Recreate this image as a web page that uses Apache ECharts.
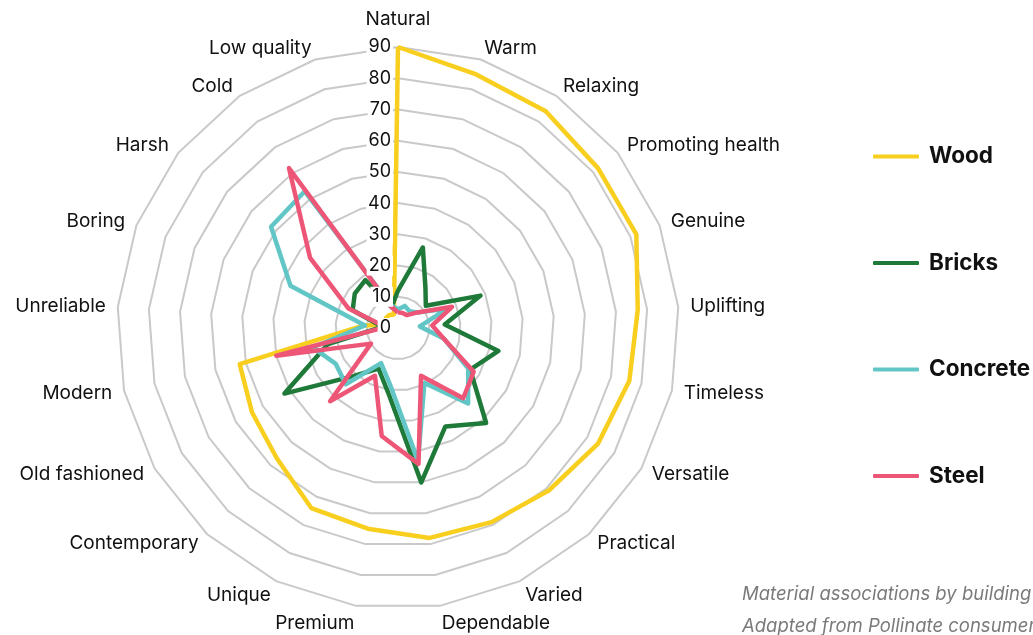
<!DOCTYPE html>
<html>
<head>
<meta charset="utf-8">
<script src="https://cdn.jsdelivr.net/npm/echarts@6/dist/echarts.min.js"></script>
<style>
  html, body { margin: 0; padding: 0; background: #fff; }
  #main { width: 1033px; height: 635px; }
</style>
</head>
<body>
<div id="main"></div>
<script>
// indicator names, clockwise from the top
const indicators = ['Natural', 'Warm', 'Relaxing', 'Promoting health', 'Genuine', 'Uplifting',
  'Timeless', 'Versatile', 'Practical', 'Varied', 'Dependable', 'Premium', 'Unique',
  'Contemporary', 'Old fashioned', 'Modern', 'Unreliable', 'Boring', 'Harsh', 'Cold', 'Low quality']

const wood     = [90, 85, 84, 82, 82, 77, 76, 74, 71, 69, 68, 65, 64, 57, 54, 52, 11, 3, 5, 5, 4.5]
const bricks   = [12, 27, 15.6, 11.4, 28.4, 15, 33, 26.7, 41.5, 35, 50, 21, 14.4, 21, 42, 23, 5, 15.6, 17.7, 18.6, 7]
const concrete = [6, 7.4, 6.5, 8, 17, 7, 15, 26, 33, 19.5, 43, 18, 12.5, 24.6, 23, 28, 10.6, 37, 52, 53, 7.6]
const steel    = [5, 5, 5, 8, 18.6, 11, 15, 28, 30.7, 17, 44, 35, 17, 32, 10, 40, 4, 17, 36, 62, 7]

const seriesNames = ['Wood', 'Bricks', 'Concrete', 'Steel']
const colors = ['#f8cf1f', '#1f7a3a', '#62c6c6', '#ee5677']

const caption1 = 'Material associations by building material'
const caption2 = 'Adapted from Pollinate consumer research'

const chart = echarts.init(document.getElementById('main'))

// radar runs counter-clockwise, so keep the first and flip the rest
const clockwise = arr => [arr[0]].concat(arr.slice(1).reverse())

const gridIndicators = clockwise(indicators).map(name => ({ name: name, min: 0, max: 90 }))

// second radar only for the value labels, drawn above the lines
const labelIndicators = clockwise(indicators).map((name, i) => {
  const ind = { name: name, min: 0, max: 90 }
  if (i === 0) {
    ind.axisLabel = {
      show: true,
      color: '#111',
      fontSize: 18,
      fontFamily: 'Inter',
      backgroundColor: '#fff',
      padding: [1, 2],
      margin: 5
    }
  }
  return ind
})

const nameStyle = { fontSize: 19, fontFamily: 'Inter', color: '#111' }

const dataArr = [wood, bricks, concrete, steel]

const option = {
  backgroundColor: '#fff',
  color: colors,
  title: {
    text: caption1 + '\n' + caption2,
    left: 737,
    top: 573,
    textStyle: {
      fontFamily: 'Inter',
      fontStyle: 'italic',
      fontWeight: 'normal',
      fontSize: 18.5,
      color: '#7a7a7a',
      lineHeight: 32
    }
  },
  legend: {
    orient: 'vertical',
    left: 868,
    top: 140,
    itemGap: 83.5,
    itemWidth: 46,
    itemHeight: 4,
    icon: 'roundRect',
    data: seriesNames,
    textStyle: {
      fontFamily: 'Inter',
      fontSize: 22.5,
      fontWeight: 'bold',
      color: '#111',
      padding: [0, 0, 0, 5]
    }
  },
  radar: [{
    center: [398, 328],
    radius: 281,
    startAngle: 90,
    splitNumber: 9,
    shape: 'polygon',
    indicator: gridIndicators,
    axisNameGap: 12,
    axisName: {
      color: '#111',
      fontSize: 19,
      fontFamily: 'Inter',
      formatter: name => {
        if (name === 'Natural') return '{top|' + name + '}'
        if (name === 'Premium' || name === 'Dependable') return '{bot|' + name + '}'
        if (name === 'Unique' || name === 'Varied') return '{low|' + name + '}'
        return name
      },
      rich: {
        top: Object.assign({ padding: [0, 0, 6, 0] }, nameStyle),
        bot: Object.assign({ padding: [12, 0, 0, 0] }, nameStyle),
        low: Object.assign({ padding: [7, 0, 0, 0] }, nameStyle)
      }
    },
    axisLine: { show: false },
    axisTick: { show: false },
    splitArea: { show: false },
    splitLine: {
      lineStyle: { color: '#c9c9c9', width: 2 }
    }
  }, {
    z: 5,
    center: [398, 328],
    radius: 281,
    startAngle: 90,
    splitNumber: 9,
    shape: 'polygon',
    indicator: labelIndicators,
    axisName: { show: false },
    axisLine: { show: false },
    axisTick: { show: false },
    splitArea: { show: false },
    splitLine: { show: false }
  }],
  series: [{
    type: 'radar',
    radarIndex: 0,
    symbol: 'none',
    data: dataArr.map((d, i) => ({
      name: seriesNames[i],
      value: clockwise(d),
      lineStyle: { color: colors[i], width: 4.5 },
      itemStyle: { color: colors[i] }
    }))
  }]
}

chart.setOption(option)
</script>
</body>
</html>
